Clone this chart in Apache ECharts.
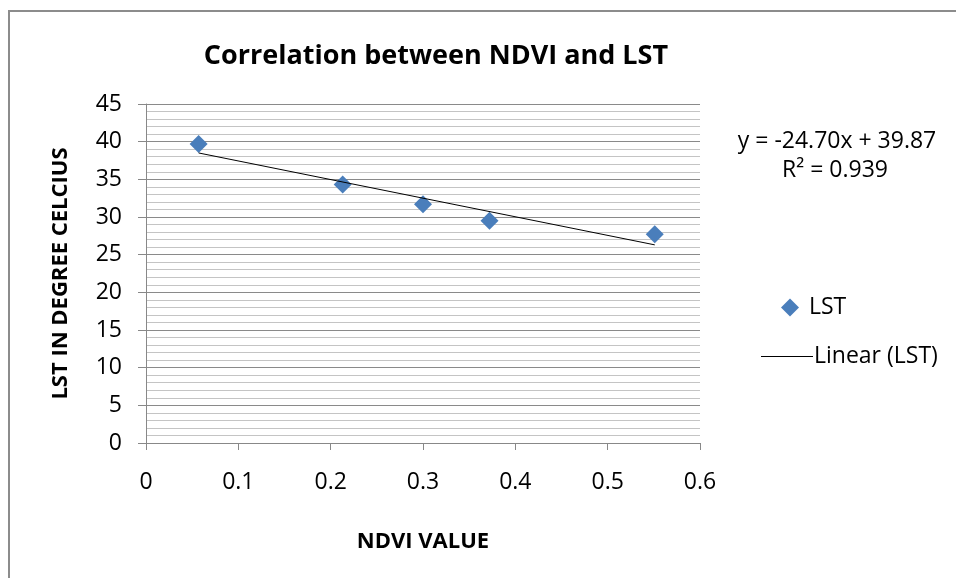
<!DOCTYPE html>
<html>
<head>
<meta charset="utf-8">
<script src="https://cdn.jsdelivr.net/npm/echarts@6/dist/echarts.min.js"></script>
<style>
  html, body { margin: 0; padding: 0; background: #fff; }
  #frame { position: absolute; left: 8px; top: 10px; width: 948px; height: 568px;
           border-top: 2px solid #8c8c8c; border-left: 2px solid #8c8c8c; box-sizing: border-box; }
  #main { position: absolute; left: 0; top: 0; width: 956px; height: 578px; }
</style>
</head>
<body>
<div id="frame"></div>
<div id="main"></div>
<script>
// NDVI values and land surface temperature
var ndvi = [0.057, 0.213, 0.300, 0.372, 0.551];
var lst = [39.7, 34.3, 31.7, 29.5, 27.7];
// ends of the linear trend line
var trendX = [0.057, 0.551];
var trendY = [38.5, 26.3];
var equation = 'y = -24.70x + 39.87';
var rSquared = 'R\u00b2 = 0.939';

var font = '"Open Sans", sans-serif';
var chart = echarts.init(document.getElementById('main'));

chart.setOption({
  animation: false,
  title: {
    text: 'Correlation between NDVI and LST',
    left: 431, top: 38, textAlign: 'center',
    textStyle: { fontFamily: font, fontSize: 27, fontWeight: 'bold', color: '#000' }
  },
  grid: { left: 146, right: 256, top: 104, bottom: 135 },
  xAxis: {
    type: 'value', min: 0, max: 0.6, interval: 0.1,
    name: 'NDVI VALUE', nameLocation: 'middle', nameGap: 88,
    nameTextStyle: { fontFamily: font, fontSize: 22, fontWeight: 'bold', color: '#000' },
    axisLine: { show: true, lineStyle: { color: '#888', width: 1 } },
    axisTick: { show: true, length: 7, lineStyle: { color: '#888' } },
    axisLabel: { fontFamily: font, fontSize: 23, color: '#000', margin: 28 },
    splitLine: { show: false }
  },
  yAxis: {
    type: 'value', min: 0, max: 45, interval: 5,
    name: 'LST IN DEGREE CELCIUS', nameLocation: 'middle', nameGap: 74, nameRotate: 90,
    nameTextStyle: { fontFamily: font, fontSize: 22, fontWeight: 'bold', color: '#000' },
    axisLine: { show: true, lineStyle: { color: '#888', width: 1 } },
    axisTick: { show: true, inside: false, length: 8, lineStyle: { color: '#888' } },
    axisLabel: { fontFamily: font, fontSize: 23, color: '#000', margin: 24 },
    splitLine: { show: true, lineStyle: { color: '#8a8a8a', width: 1 } },
    minorTick: { show: false, splitNumber: 5 },
    minorSplitLine: { show: true, lineStyle: { color: '#c4c4c4', width: 1 } }
  },
  legend: [
    {
      data: [{ name: 'LST', icon: 'diamond' }],
      left: 776, top: 291, itemWidth: 18, itemHeight: 18, itemGap: 10,
      textStyle: { fontFamily: font, fontSize: 23, color: '#000', padding: [0, 0, 0, 5] }
    },
    {
      data: [{ name: 'Linear (LST)', icon: 'rect' }],
      left: 756, top: 340, itemWidth: 52, itemHeight: 1.2, itemGap: 2,
      textStyle: { fontFamily: font, fontSize: 23, color: '#000', padding: [0, 0, 0, -4] }
    }
  ],
  graphic: [
    {
      type: 'text', x: 837, y: 141,
      style: { text: equation, fontFamily: font, fontSize: 23, fill: '#000', align: 'center', verticalAlign: 'middle' }
    },
    {
      type: 'text', x: 835, y: 170,
      style: { text: rSquared, fontFamily: font, fontSize: 23, fill: '#000', align: 'center', verticalAlign: 'middle' }
    }
  ],
  series: [
    {
      name: 'LST', type: 'scatter', symbol: 'diamond', symbolSize: 18,
      itemStyle: { color: '#4a7ebb', opacity: 1 },
      data: ndvi.map(function (x, i) { return [x, lst[i]]; }),
      z: 3
    },
    {
      name: 'Linear (LST)', type: 'line', showSymbol: false, symbol: 'none',
      lineStyle: { color: '#000', width: 1 }, itemStyle: { color: '#000' },
      data: trendX.map(function (x, i) { return [x, trendY[i]]; }),
      z: 4
    }
  ]
});
</script>
</body>
</html>
